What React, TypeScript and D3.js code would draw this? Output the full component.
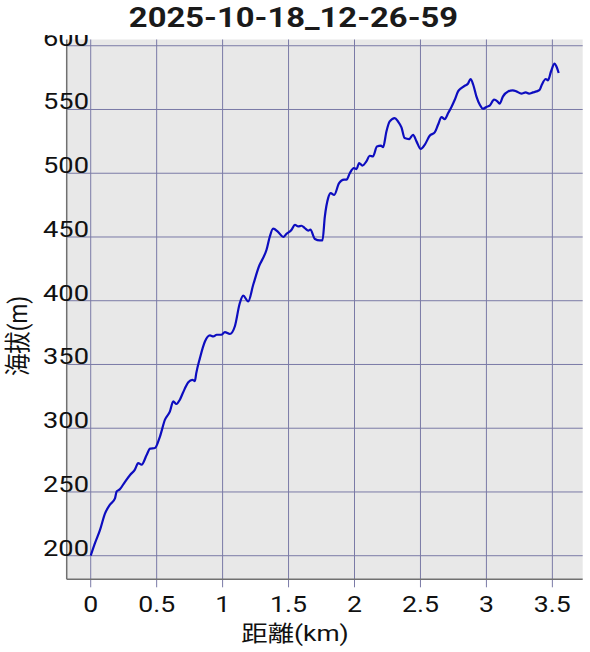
import React from "react";
import * as d3 from "d3";

const title = "2025-10-18_12-26-59";
const xLabel = "距離(km)";
const yLabel = "海拔(m)";
const xTicks = [0, 0.5, 1, 1.5, 2, 2.5, 3, 3.5];
const yTicks = [200, 250, 300, 350, 400, 450, 500, 550, 600];

const dist = [
  0.0, 0.033, 0.07, 0.108, 0.146, 0.184, 0.197, 0.22, 0.26, 0.3, 0.335, 0.36, 0.386, 0.424, 0.45, 0.487,
  0.525, 0.563, 0.6, 0.626, 0.65, 0.676, 0.7, 0.74, 0.77, 0.79, 0.8, 0.828, 0.866, 0.904, 0.93, 0.955,
  0.99, 1.017, 1.055, 1.093, 1.13, 1.156, 1.194, 1.232, 1.28, 1.303, 1.333, 1.358, 1.383, 1.42, 1.46,
  1.485, 1.523, 1.548, 1.573, 1.598, 1.623, 1.65, 1.665, 1.7, 1.737, 1.757, 1.775, 1.8, 1.82, 1.846,
  1.883, 1.92, 1.94, 1.964, 1.995, 2.015, 2.035, 2.06, 2.09, 2.116, 2.14, 2.17, 2.2, 2.217, 2.242,
  2.267, 2.305, 2.33, 2.356, 2.38, 2.414, 2.444, 2.47, 2.502, 2.533, 2.57, 2.608, 2.633, 2.66, 2.684,
  2.71, 2.735, 2.76, 2.785, 2.81, 2.836, 2.86, 2.88, 2.9, 2.924, 2.95, 2.974, 3.0, 3.025, 3.058, 3.083,
  3.1, 3.126, 3.164, 3.2, 3.227, 3.265, 3.298, 3.323, 3.353, 3.38, 3.404, 3.42, 3.45, 3.467, 3.49,
  3.517, 3.53, 3.548,
];
const elev = [
  200, 210, 220, 233, 240, 245, 250.5, 252, 258, 263.5, 267.5, 272.7, 271.4, 279, 284, 284.5,
  293.5, 306.7, 313, 321, 319, 322.4, 328, 336, 338, 337, 343, 355, 368, 372.8, 372, 373.3,
  373.3, 375.4, 373.9, 380, 398, 404, 399.5, 412.5, 428, 432.7, 440, 450.4, 456.5, 454, 450,
  452.5, 455.7, 459.6, 458.3, 458.8, 457, 455, 455.7, 448.4, 447.3, 447.3, 466, 480.5, 484.4, 483,
  492.3, 495, 495, 500, 504, 503.3, 508, 506, 509.3, 513.7, 513.2, 521, 521.6, 520.5, 532.8,
  540.6, 543.3, 540.6, 536, 527.6, 526.8, 530.2, 525, 519, 522.4, 529.4, 532, 538, 544, 542.5,
  547.2, 552, 557.6, 564.2, 566.8, 568.6, 570.2, 573.9, 569.4, 560.3, 553.7, 550.6, 552, 553, 557.7, 556.4,
  554.5, 560.3, 564.2, 565, 564.2, 562.4, 563.4, 562.4, 563.4, 564.2, 565.5, 569.4, 573.9, 572.9, 580,
  586, 583.9, 578.6,
];

const SX = 1.24;

export default function App() {
  const W = 590;
  const H = 652;
  const left = 66.7;
  const right = 582.7;
  const top = 39.5;
  const bottom = 579.3;
  const x = d3.scaleLinear().domain([-0.182, 3.73]).range([left, right]);
  const y = d3.scaleLinear().domain([181.5, 604.9]).range([bottom, top]);
  const pts = dist.map((d, i) => [d, elev[i]] as [number, number]);
  const line = d3
    .line<[number, number]>()
    .x((d) => x(d[0]))
    .y((d) => y(d[1]))
    .curve(d3.curveMonotoneX);
  const font = "Roboto, 'Noto Sans CJK JP', sans-serif";
  const grid = "#7a7aa6";
  return (
    <svg
      width={W}
      height={H}
      style={{ position: "absolute", left: 0, top: 0, background: "#fff" }}
      fontFamily={font}
    >
      <rect x={0} y={0} width={W} height={H} fill="#fff" />
      <rect x={left} y={top} width={right - left} height={bottom - top} fill="#e8e8e8" />
      {xTicks.map((t) => (
        <line key={"gx" + t} x1={x(t)} x2={x(t)} y1={top} y2={bottom + 8} stroke={grid} strokeWidth={1} />
      ))}
      {yTicks.map((t) => (
        <line key={"gy" + t} x1={left} x2={right} y1={y(t)} y2={y(t)} stroke={grid} strokeWidth={1} />
      ))}
      <line x1={left} x2={left} y1={top} y2={bottom} stroke="#707070" strokeWidth={1.5} />
      <line x1={left} x2={right} y1={bottom} y2={bottom} stroke="#707070" strokeWidth={1.5} />
      <path d={line(pts) || ""} fill="none" stroke="#0d0dbf" strokeWidth={2.2} strokeLinejoin="round" />
      {yTicks.map((t) => (
        <text
          key={"ly" + t}
          transform={`translate(89,${y(t)}) scale(${SX},1)`}
          textAnchor="end"
          fontSize={22}
          fill="#111"
        >
          {t}
        </text>
      ))}
      <rect x={0} y={0} width={W} height={35} fill="#fff" />
      {xTicks.map((t) => (
        <text
          key={"lx" + t}
          transform={`translate(${x(t)},612) scale(${SX},1)`}
          textAnchor="middle"
          fontSize={21.5}
          fill="#111"
        >
          {t}
        </text>
      ))}
      <text transform={`translate(295,641) scale(1.2,1)`} textAnchor="middle" fontSize={22} fill="#111">
        {xLabel}
      </text>
      <text
        transform={`translate(27,336) scale(1.15,1) rotate(-90)`}
        textAnchor="middle"
        fontSize={22.5}
        fill="#111"
      >
        {yLabel}
      </text>
      <text
        transform={`translate(293.5,27) scale(1.17,1)`}
        textAnchor="middle"
        fontSize={28}
        fontWeight="bold"
        fill="#1a1a1a"
      >
        {title}
      </text>
    </svg>
  );
}
